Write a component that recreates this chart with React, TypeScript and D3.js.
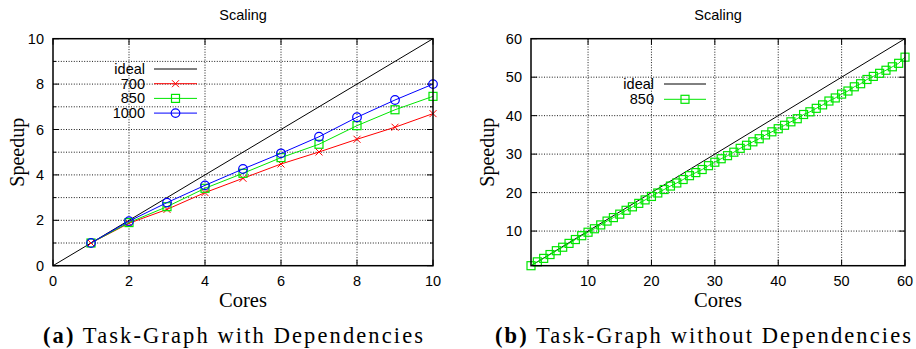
import React from 'react';
import * as d3 from 'd3';

// left panel: task graph with dependencies
const coresA = [1, 2, 3, 4, 5, 6, 7, 8, 9, 10];
const speed700 = [1, 1.87, 2.48, 3.22, 3.85, 4.48, 5.01, 5.57, 6.1, 6.7];
const speed850 = [1, 1.9, 2.6, 3.41, 4.07, 4.76, 5.35, 6.17, 6.87, 7.46];
const speed1000 = [1, 1.96, 2.78, 3.54, 4.26, 4.95, 5.68, 6.54, 7.3, 8.0];
const ticksA = [0, 2, 4, 6, 8, 10];

// right panel: task graph without dependencies
const coresB = d3.range(1, 61);
const speedB = [
  1, 2, 2.9, 3.9, 4.9, 5.8, 6.8, 7.8, 8.8, 9.7,
  10.6, 11.6, 12.6, 13.5, 14.4, 15.4, 16.3, 17.2, 18.1, 19.0,
  19.9, 20.8, 21.7, 22.5, 23.4, 24.4, 25.2, 26.0, 27.0, 27.9,
  28.8, 29.6, 30.5, 31.5, 32.3, 33.2, 34.0, 35.0, 35.8, 36.6,
  37.5, 38.4, 39.2, 40.3, 41.0, 41.9, 42.8, 43.8, 44.6, 45.6,
  46.4, 47.5, 48.3, 49.4, 50.2, 51.0, 51.8, 52.7, 53.6, 55.2,
];
const ticksB = [10, 20, 30, 40, 50, 60];

const RED = '#ff0000';
const GREEN = '#00e600';
const BLUE = '#0000ff';

const SANS = "'Liberation Sans', Arial, sans-serif";
const SERIF = "'Liberation Serif', 'Times New Roman', serif";

type Series = { name: string; color: string; marker: string; xs: number[]; ys: number[] };

const Marker = ({ kind, x, y, color }: { kind: string; x: number; y: number; color: string }) => {
  if (kind === 'x')
    return (
      <path d={`M${x - 3.5},${y - 3.5}L${x + 3.5},${y + 3.5}M${x - 3.5},${y + 3.5}L${x + 3.5},${y - 3.5}`} stroke={color} strokeWidth={1} />
    );
  if (kind === 'square')
    return <rect x={x - 4} y={y - 4} width={8} height={8} fill="none" stroke={color} strokeWidth={1.2} />;
  if (kind === 'circle') return <circle cx={x} cy={y} r={4.3} fill="none" stroke={color} strokeWidth={1.2} />;
  return null;
};

type PanelProps = {
  left: number;
  right: number;
  domain: [number, number];
  xTicks: number[];
  yTicks: number[];
  yMinor: number[];
  ylabX: number;
  series: Series[];
  legend: { textX: number; lineX0: number; lineX1: number; y0: number; dy: number };
  caption: string;
  captionBold: string;
  captionX0: number;
  captionX1: number;
};

const Panel = (p: PanelProps) => {
  const top = 38.7;
  const bottom = 265.7;
  const x = d3.scaleLinear().domain(p.domain).range([p.left, p.right]);
  const y = d3.scaleLinear().domain(p.domain).range([bottom, top]);
  const line = d3.line<[number, number]>().x(d => x(d[0])).y(d => y(d[1]));
  const cx = (p.left + p.right) / 2;
  const ideal: [number, number][] = [
    [p.domain[0], p.domain[0]],
    [p.domain[1], p.domain[1]],
  ];
  const gridX = p.xTicks.filter(t => t > p.domain[0] && t < p.domain[1]);
  const gridY = p.yMinor.filter(t => t > p.domain[0] && t < p.domain[1]);
  return (
    <g>
      <text x={cx} y={20} textAnchor="middle" fontFamily={SANS} fontSize={14.5}>Scaling</text>
      {/* grid */}
      {gridX.map(t => (
        <line key={'gx' + t} x1={x(t)} x2={x(t)} y1={top} y2={bottom} stroke="#000" strokeWidth={0.9} strokeDasharray="1,1.6" />
      ))}
      {gridY.map(t => (
        <line key={'gy' + t} x1={p.left} x2={p.right} y1={y(t)} y2={y(t)} stroke="#000" strokeWidth={0.9} strokeDasharray="1,1.6" />
      ))}
      {/* ticks, inward on all sides */}
      {p.xTicks.map(t => (
        <g key={'tx' + t}>
          <line x1={x(t)} x2={x(t)} y1={bottom} y2={bottom - 6} stroke="#000" />
          <line x1={x(t)} x2={x(t)} y1={top} y2={top + 6} stroke="#000" />
          <text x={x(t)} y={286} textAnchor="middle" fontFamily={SANS} fontSize={14.5}>{t}</text>
        </g>
      ))}
      {p.yMinor.map(t => (
        <g key={'ty' + t}>
          <line x1={p.left} x2={p.left + (p.yTicks.includes(t) ? 6 : 3)} y1={y(t)} y2={y(t)} stroke="#000" />
          <line x1={p.right} x2={p.right - (p.yTicks.includes(t) ? 6 : 3)} y1={y(t)} y2={y(t)} stroke="#000" />
        </g>
      ))}
      {p.yTicks.map(t => (
        <text key={'ly' + t} x={p.left - 9} y={y(t) + 5} textAnchor="end" fontFamily={SANS} fontSize={14.5}>{t}</text>
      ))}
      {/* ideal */}
      <path d={line(ideal) || ''} fill="none" stroke="#000" strokeWidth={1} />
      {p.series.map(s => {
        const pts = s.xs.map((v, i) => [v, s.ys[i]] as [number, number]);
        return (
          <g key={s.name}>
            <path d={line(pts) || ''} fill="none" stroke={s.color} strokeWidth={1} />
            {pts.map((d, i) => (
              <Marker key={i} kind={s.marker} x={x(d[0])} y={y(d[1])} color={s.color} />
            ))}
          </g>
        );
      })}
      {/* legend */}
      {[{ name: 'ideal', color: '#000', marker: 'none' }, ...p.series].map((s, i) => {
        const ly = p.legend.y0 + i * p.legend.dy;
        return (
          <g key={'lg' + s.name}>
            <text x={p.legend.textX} y={ly + 5} textAnchor="end" fontFamily={SANS} fontSize={14.5}>{s.name}</text>
            <line x1={p.legend.lineX0} x2={p.legend.lineX1} y1={ly} y2={ly} stroke={s.color} strokeWidth={1} />
            <Marker kind={s.marker} x={(p.legend.lineX0 + p.legend.lineX1) / 2} y={ly} color={s.color} />
          </g>
        );
      })}
      {/* frame */}
      <rect x={p.left} y={top} width={p.right - p.left} height={bottom - top} fill="none" stroke="#000" strokeWidth={1.5} />
      {/* axis titles */}
      <text transform={`translate(${p.ylabX},${(top + bottom) / 2}) rotate(-90)`} textAnchor="middle" fontFamily={SERIF} fontSize={20}>Speedup</text>
      <text x={cx} y={307} textAnchor="middle" fontFamily={SERIF} fontSize={20.5}>Cores</text>
      <text x={p.captionX0} y={343} fontFamily={SERIF} fontSize={22.5} textLength={p.captionX1 - p.captionX0} lengthAdjust="spacing">
        <tspan fontWeight="bold">{p.captionBold}</tspan> {p.caption}
      </text>
    </g>
  );
};

export default function App() {
  return (
    <svg width={916} height={349} style={{ position: 'absolute', left: 0, top: 0, background: '#fff' }}>
      <rect width={916} height={349} fill="#fff" />
      <Panel
        left={53}
        right={433}
        domain={[0, 10]}
        xTicks={ticksA}
        yTicks={ticksA}
        yMinor={d3.range(0, 11)}
        ylabX={24}
        series={[
          { name: '700', color: RED, marker: 'x', xs: coresA, ys: speed700 },
          { name: '850', color: GREEN, marker: 'square', xs: coresA, ys: speed850 },
          { name: '1000', color: BLUE, marker: 'circle', xs: coresA, ys: speed1000 },
        ]}
        legend={{ textX: 145, lineX0: 154, lineX1: 197, y0: 69, dy: 14.7 }}
        captionBold="(a)"
        caption="Task-Graph with Dependencies"
        captionX0={43}
        captionX1={423}
      />
      <Panel
        left={531}
        right={905}
        domain={[1, 60]}
        xTicks={ticksB}
        yTicks={ticksB}
        yMinor={ticksB}
        ylabX={494}
        series={[{ name: '850', color: GREEN, marker: 'square', xs: coresB, ys: speedB }]}
        legend={{ textX: 654, lineX0: 664, lineX1: 706, y0: 84, dy: 15.3 }}
        captionBold="(b)"
        caption="Task-Graph without Dependencies"
        captionX0={495}
        captionX1={911}
      />
    </svg>
  );
}
